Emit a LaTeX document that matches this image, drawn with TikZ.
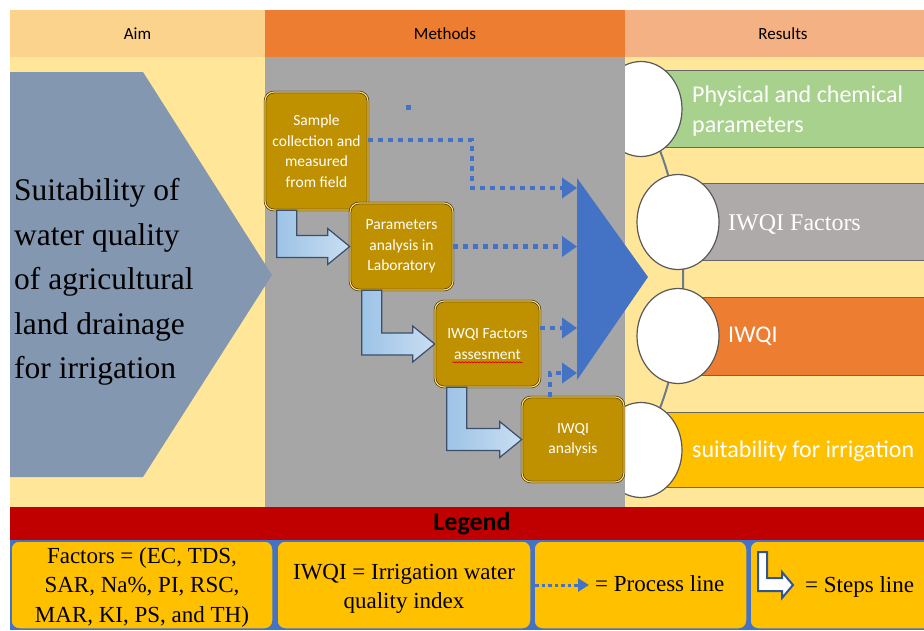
\documentclass[tikz,border=0pt]{standalone}
\usepackage{fontspec}
\setmainfont{Liberation Serif}
\newfontfamily\calibri{Carlito}
\usetikzlibrary{arrows.meta,calc,shapes.geometric,decorations.pathmorphing}

\definecolor{aimhead}{HTML}{FCD38D}
\definecolor{paleyellow}{HTML}{FFE699}
\definecolor{methhead}{HTML}{ED7D31}
\definecolor{reshead}{HTML}{F4B183}
\definecolor{panelgray}{HTML}{A6A6A6}
\definecolor{aimslate}{HTML}{8497B0}
\definecolor{boxgold}{HTML}{BF9000}
\definecolor{rimgold}{HTML}{FFD966}
\definecolor{procblue}{HTML}{4472C4}
\definecolor{iconblue}{HTML}{2F5597}
\definecolor{steplight}{HTML}{9DC3E6}
\definecolor{stepedge}{HTML}{3B4F6B}
\definecolor{bargreen}{HTML}{A9D18E}
\definecolor{bargray}{HTML}{AEAAAA}
\definecolor{barorange}{HTML}{ED7D31}
\definecolor{bargold}{HTML}{FFC000}
\definecolor{legendred}{HTML}{C00000}
\definecolor{linkgray}{HTML}{6B7B8C}

\tikzset{
  colhead/.style={minimum height=47pt, inner sep=0pt, font=\calibri\fontsize{17}{20}\selectfont},
  stepbox/.style={rounded corners=9pt, fill=boxgold, draw=black!75!boxgold, double=rimgold,
    double distance=1.2pt, line width=0.6pt, text=white, align=center, inner sep=0pt,
    font=\calibri\fontsize{15.5}{20.5}\selectfont},
  steparrow/.style={left color=steplight, right color=steplight!55!white, draw=stepedge, line width=1.2pt},
  procline/.style={draw=procblue, line width=4.5pt, dash pattern=on 5pt off 5pt,
    -{Triangle[length=15pt,width=20pt]}},
  bar/.style={draw=black!60, line width=0.6pt},
  linkline/.style={draw=linkgray, line width=2pt},
  bubble/.style={ellipse, minimum width=82pt, minimum height=95pt, inner sep=0pt,
    fill=white, draw=black!65, line width=1.2pt},
  bartext/.style={anchor=west, align=left, inner sep=0pt, text=white,
    font=\calibri\fontsize{24}{30}\selectfont},
  legbox/.style={fill=bargold, draw=procblue, line width=1.5pt, rounded corners=8pt},
  legtext/.style={align=center, inner sep=0pt, font=\fontsize{23}{29.5}\selectfont},
  spellmark/.style={draw=red!85!black, line width=0.7pt, decorate,
    decoration={snake, amplitude=0.6pt, segment length=3pt}}
}

% bent step arrow from the bottom of one box into the side of the next
\newcommand{\stepline}[2]{%
  \draw[steparrow] let \p1=(#1.south west), \p2=(#2.west) in
    (\x1+12pt,\y1) -- (\x1+12pt,\y2-11pt) -- (\x2-22pt,\y2-11pt) -- (\x2-22pt,\y2-18pt)
    -- (\x2,\y2) -- (\x2-22pt,\y2+18pt) -- (\x2-22pt,\y2+11pt) -- (\x1+32pt,\y2+11pt)
    -- (\x1+32pt,\y1) -- cycle;}

\begin{document}
\begin{tikzpicture}[x=1pt,y=-1pt]
  \useasboundingbox (0,0) rectangle (924,630);
  \clip (0,0) rectangle (924,630);
  \fill[white] (0,0) rectangle (924,630);

  % Column backgrounds
  \fill[paleyellow] (10,57) rectangle (924,507);

  % Results: bars hanging off a curved chain of bubbles
  \draw[bar, fill=bargreen] (641,70) rectangle (935,147);
  \draw[bar, fill=bargray] (678,183) rectangle (935,260);
  \draw[bar, fill=barorange] (678,297) rectangle (935,375);
  \draw[bar, fill=bargold] (641,412) rectangle (935,487);

  \coordinate (c1) at (641,109);
  \coordinate (c2) at (678,222);
  \coordinate (c3) at (678,336);
  \coordinate (c4) at (641,450);
  \foreach \a/\b in {c1/c2,c2/c3,c3/c4}
    \draw[linkline] (\a) to[bend left=9] (\b);
  \foreach \c [count=\i] in {c1,c2,c3,c4}
    \node[bubble] (r\i) at (\c) {};

  \node[bartext] (t1) at (692,111) {Physical and chemical\\parameters};
  \node[bartext, font=\fontsize{24}{30}\selectfont] (t2) at (728,224) {IWQI Factors};
  \node[bartext] (t3) at (728,336) {IWQI};
  \node[bartext] (t4) at (692,451) {suitability for irrigation};

  % Methods panel
  \fill[panelgray] (265,57) rectangle (625,507);

  % Aim
  \fill[aimslate] (10,72) -- (143,72) -- (272,275) -- (143,477) -- (10,477) -- cycle;
  \node[anchor=west, align=left, inner sep=0pt, font=\fontsize{31.5}{44.5}\selectfont] (aim) at (14,282)
    {Suitability of\\water quality\\of agricultural\\land drainage\\for irrigation};

  % Column headers
  \node[colhead, fill=aimhead, minimum width=255pt] (aimcol) at (137.5,33.5) {Aim};
  \node[colhead, fill=methhead, minimum width=360pt] (methcol) at (445,33.5) {Methods};
  \node[colhead, fill=reshead, minimum width=316pt] (rescol) at (783,33.5) {Results};

  % Method steps
  \node[stepbox, minimum width=103pt, minimum height=118pt] (s1) at (316.5,151)
    {Sample\\collection and\\measured\\from field};
  \node[stepbox, minimum width=103pt, minimum height=87pt] (s2) at (401.5,246.5)
    {Parameters\\analysis in\\Laboratory};
  \node[stepbox, minimum width=105pt, minimum height=86pt] (s3) at (487.5,344)
    {IWQI Factors\\assesment};
  \node[stepbox, minimum width=102pt, minimum height=85pt] (s4) at (573,439.5)
    {IWQI\\analysis};
  \draw[spellmark] ([xshift=-35pt,yshift=25pt]s3.south) -- ([xshift=35pt,yshift=25pt]s3.south);

  % Steps lines
  \stepline{s1}{s2}
  \stepline{s2}{s3}
  \stepline{s3}{s4}

  % Merge triangle
  \coordinate (tritop) at (577,178);
  \coordinate (triapex) at (648,277);
  \coordinate (tribot) at (577,380);
  \fill[procblue] (tritop) -- (triapex) -- (tribot) -- cycle;
  \coordinate (in1) at (577,188);
  \coordinate (in2) at (577,246.5);
  \coordinate (in3) at (577,328);
  \coordinate (in4) at (577,373);

  % Process lines
  \fill[procblue] (406,105) rectangle (411,110);
  \draw[procline] ([yshift=11pt]s1.east) -| ([xshift=-105pt]in1) -- (in1);
  \draw[procline] (s2.east) -- (in2);
  \draw[procline] ([yshift=16pt]s3.east) -- (in3);
  \draw[procline] ([xshift=-23pt]s4.north) |- (in4);

  % Legend
  \fill[legendred] (10,507) rectangle (924,540);
  \node[font=\calibri\bfseries\fontsize{26}{30}\selectfont] (legtitle) at (472,524) {Legend};
  \fill[procblue] (10,540) rectangle (924,630);
  \draw[legbox] (11,541) rectangle (273,629);
  \draw[legbox] (277,541) rectangle (531,629);
  \draw[legbox] (534,541) rectangle (747,629);
  \draw[legbox] (750,541) rectangle (940,629);

  \node[legtext] (factors) at (142,587) {Factors = (EC, TDS,\\SAR, Na\%, PI, RSC,\\MAR, KI, PS, and TH)};
  \node[legtext] (iwqidef) at (404,589) {IWQI = Irrigation water\\quality index};
  \node[legtext, anchor=west] (proctext) at (595,584) {= Process line};
  \node[legtext, anchor=west] (steptext) at (805,587) {= Steps line};

  \coordinate (pstart) at (535,585);
  \draw[procline, line width=3pt, dash pattern=on 3.5pt off 3pt, -{Triangle[length=11pt,width=13pt]}]
    (pstart) -- ([xshift=-6pt]proctext.west |- pstart);
  \draw[fill=white, draw=iconblue, line width=2pt] (758,552) -- (767,552) -- (767,578) -- (782,578)
    -- (782,572) -- (793,585) -- (782,598) -- (782,591) -- (758,591) -- cycle;
\end{tikzpicture}
\end{document}
